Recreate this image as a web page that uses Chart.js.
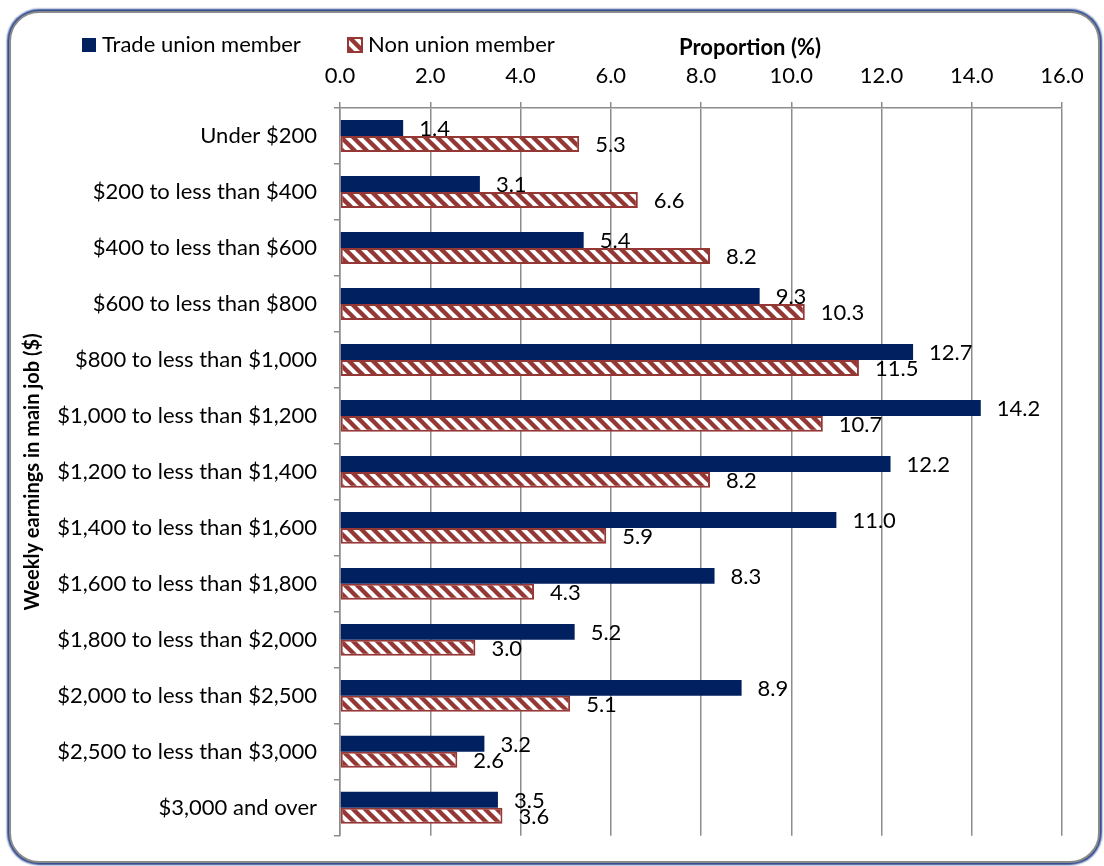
<!DOCTYPE html>
<html>
<head>
<meta charset="utf-8">
<script src="https://cdn.jsdelivr.net/npm/chart.js@4"></script>
<style>
  html, body { margin: 0; padding: 0; background: #fff; }
  #frame {
    position: absolute; left: 9px; top: 11px; width: 1087px; height: 848px;
    border: 2.5px solid #8a8a8a; border-radius: 30px; background: #fff;
    box-shadow: 0 0 2px 2px #27458f;
  }
  #chart { position: absolute; left: 0; top: 0; }
</style>
</head>
<body>
<div id="frame"></div>
<canvas id="chart" width="1104" height="866"></canvas>
<script>
const categories = [
    'Under $200',
    '$200 to less than $400',
    '$400 to less than $600',
    '$600 to less than $800',
    '$800 to less than $1,000',
    '$1,000 to less than $1,200',
    '$1,200 to less than $1,400',
    '$1,400 to less than $1,600',
    '$1,600 to less than $1,800',
    '$1,800 to less than $2,000',
    '$2,000 to less than $2,500',
    '$2,500 to less than $3,000',
    '$3,000 and over'
];
const tradeUnion = [1.4, 3.1, 5.4, 9.3, 12.7, 14.2, 12.2, 11.0, 8.3, 5.2, 8.9, 3.2, 3.5];
const nonUnion = [5.3, 6.6, 8.2, 10.3, 11.5, 10.7, 8.2, 5.9, 4.3, 3.0, 5.1, 2.6, 3.6];
const seriesNames = ['Trade union member', 'Non union member'];
const xTitle = 'Proportion (%)';
const yTitle = 'Weekly earnings in main job ($)';

const FONT = 'Lato';
const navy = '#002060';
const red = '#953735';

// wide downward diagonal hatch like the excel pattern fill
function makeHatch() {
    const s = 12;
    const c = document.createElement('canvas');
    c.width = s; c.height = s;
    const g = c.getContext('2d');
    g.fillStyle = '#fff';
    g.fillRect(0, 0, s, s);
    g.strokeStyle = red;
    g.lineWidth = 4.4;
    g.beginPath();
    g.moveTo(-s / 2, -s / 2); g.lineTo(s * 1.5, s * 1.5);
    g.moveTo(-s / 2, s / 2); g.lineTo(s / 2, s * 1.5);
    g.moveTo(s / 2, -s / 2); g.lineTo(s * 1.5, s / 2);
    g.stroke();
    return g.createPattern(c, 'repeat');
}
const hatch = makeHatch();

// value labels at the end of every bar
const valueLabels = {
    id: 'valueLabels',
    afterDatasetsDraw(chart) {
        const ctx = chart.ctx;
        ctx.save();
        ctx.font = `22px ${FONT}`;
        ctx.fillStyle = '#000';
        ctx.textAlign = 'left';
        ctx.textBaseline = 'middle';
        chart.data.datasets.forEach((ds, i) => {
            chart.getDatasetMeta(i).data.forEach((bar, j) => {
                ctx.fillText(ds.data[j].toFixed(1), bar.x + 16, bar.y + 1);
            });
        });
        ctx.restore();
    }
};

// legend + axis title share the top row, so draw them by hand
const topRow = {
    id: 'topRow',
    afterDraw(chart) {
        const ctx = chart.ctx;
        ctx.save();
        ctx.textBaseline = 'middle';
        ctx.textAlign = 'left';
        ctx.font = `22px ${FONT}`;
        ctx.fillStyle = navy;
        ctx.fillRect(82, 38, 14, 14);
        ctx.fillStyle = '#000';
        ctx.fillText(seriesNames[0], 102, 45);

        ctx.fillStyle = hatch;
        ctx.fillRect(348, 38, 14, 14);
        ctx.strokeStyle = red;
        ctx.lineWidth = 2;
        ctx.strokeRect(348, 38, 14, 14);
        ctx.fillStyle = '#000';
        ctx.fillText(seriesNames[1], 368, 45);

        ctx.font = `bold 22px ${FONT}`;
        ctx.textAlign = 'center';
        ctx.fillText(xTitle, 750, 48);
        ctx.restore();
    }
};

new Chart(document.getElementById('chart'), {
    type: 'bar',
    data: {
        labels: categories,
        datasets: [
            {
                label: seriesNames[0],
                data: tradeUnion,
                backgroundColor: navy,
                borderWidth: 0
            },
            {
                label: seriesNames[1],
                data: nonUnion,
                backgroundColor: hatch,
                borderColor: red,
                borderWidth: 2,
                borderSkipped: false
            }
        ]
    },
    options: {
        indexAxis: 'y',
        responsive: false,
        animation: false,
        barPercentage: 1,
        categoryPercentage: 0.57,
        layout: { padding: { left: 10, top: 0, right: 42, bottom: 23 } },
        plugins: {
            legend: { display: false },
            tooltip: { enabled: false }
        },
        scales: {
            x: {
                position: 'top',
                min: 0,
                max: 16,
                afterFit(scale) { scale.height = 108; },
                ticks: {
                    stepSize: 2,
                    padding: 13,
                    color: '#000',
                    font: { family: FONT, size: 22 },
                    callback: v => v.toFixed(1)
                },
                grid: { color: '#8c8c8c', lineWidth: 1.5, tickLength: 6 },
                border: { color: '#8c8c8c', width: 1.5 }
            },
            y: {
                afterFit(scale) { scale.width = 330; },
                ticks: {
                    padding: 17,
                    color: '#000',
                    font: { family: FONT, size: 22 }
                },
                grid: { drawOnChartArea: false, color: '#8c8c8c', lineWidth: 1.5, tickLength: 6 },
                border: { color: '#8c8c8c', width: 1.5 },
                title: {
                    display: true,
                    text: yTitle,
                    color: '#000',
                    font: { family: FONT, size: 20, weight: 'bold' },
                    padding: { top: 11, bottom: 0 }
                }
            }
        }
    },
    plugins: [valueLabels, topRow]
});
</script>
</body>
</html>
